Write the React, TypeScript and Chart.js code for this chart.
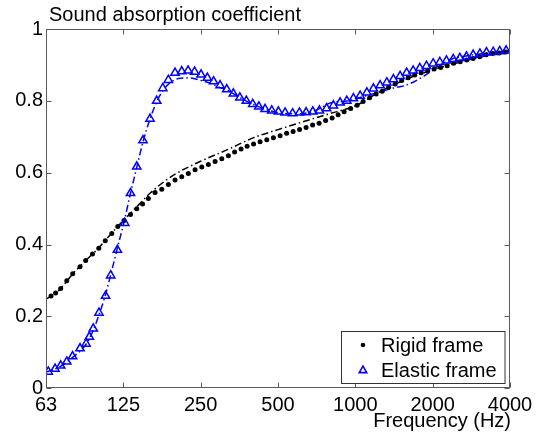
import React, { useEffect, useRef } from 'react';
import { Chart, registerables } from 'chart.js';

Chart.register(...registerables);

// Measured: rigid frame (black dots)
const rigidFreq = [65.4, 68.1, 71.3, 75.3, 79.4, 84.8, 89.2, 94.8, 100.3, 106.3, 112.7, 118.9, 125.8, 133.3, 141, 148.5, 156.4, 166.1, 176.4, 187.1, 198.7, 211, 223.9, 237.8, 252.5, 267.9, 284.5, 302.1, 320.5, 338.8, 359.1, 379, 401.7, 425.8, 452.2, 479.8, 509.5, 540.1, 572.5, 606.8, 643.2, 681.8, 722.7, 766.1, 812.1, 857, 904.4, 958.7, 1016, 1072, 1137, 1205, 1272, 1348, 1429, 1515, 1606, 1702, 1804, 1912, 2027, 2149, 2278, 2414, 2559, 2713, 2875, 3048, 3231, 3425, 3630, 3848];
const rigidAbs = [0.257, 0.265, 0.278, 0.299, 0.319, 0.338, 0.356, 0.374, 0.390, 0.411, 0.431, 0.450, 0.467, 0.484, 0.500, 0.513, 0.528, 0.545, 0.554, 0.567, 0.580, 0.589, 0.598, 0.608, 0.616, 0.623, 0.631, 0.639, 0.647, 0.658, 0.666, 0.674, 0.680, 0.686, 0.692, 0.697, 0.703, 0.710, 0.715, 0.720, 0.726, 0.733, 0.738, 0.745, 0.752, 0.761, 0.770, 0.779, 0.788, 0.798, 0.809, 0.819, 0.827, 0.838, 0.847, 0.857, 0.864, 0.872, 0.878, 0.884, 0.889, 0.893, 0.898, 0.905, 0.909, 0.914, 0.918, 0.923, 0.928, 0.932, 0.933, 0.936];

// Measured: elastic frame (blue triangles)
const elasticFreq = [63.8, 67.8, 71.3, 75.3, 79.3, 84.8, 89.5, 92.2, 95.5, 100.5, 106.6, 111.6, 118.5, 126.6, 133.3, 141, 149.1, 158.8, 168.6, 178, 187.1, 198.7, 211, 223.3, 236.7, 250.9, 265.5, 280.6, 297.5, 315.9, 335.2, 355.3, 376.6, 398.8, 421.3, 445.3, 472.9, 501.8, 532.9, 569.9, 605.8, 643.2, 683.1, 724.8, 773.1, 821.7, 872.6, 926.6, 983.1, 1044, 1109, 1176, 1249, 1326, 1407, 1494, 1584, 1679, 1783, 1892, 2009, 2133, 2263, 2404, 2552, 2708, 2875, 3054, 3240, 3441, 3647, 3865];
const elasticAbs = [0.046, 0.054, 0.063, 0.074, 0.089, 0.111, 0.124, 0.143, 0.166, 0.210, 0.257, 0.314, 0.385, 0.460, 0.543, 0.617, 0.690, 0.750, 0.800, 0.835, 0.858, 0.878, 0.882, 0.884, 0.881, 0.873, 0.864, 0.854, 0.843, 0.832, 0.820, 0.809, 0.800, 0.791, 0.784, 0.777, 0.773, 0.770, 0.767, 0.765, 0.767, 0.768, 0.770, 0.773, 0.779, 0.787, 0.795, 0.800, 0.807, 0.814, 0.823, 0.834, 0.843, 0.851, 0.860, 0.869, 0.878, 0.884, 0.891, 0.897, 0.904, 0.908, 0.912, 0.916, 0.919, 0.923, 0.928, 0.931, 0.935, 0.936, 0.938, 0.940];

// Model curves (dash-dot)
const rigidModelFreq = [62.5, 70, 80, 90, 100, 112, 125, 140, 160, 180, 200, 250, 320, 400, 500, 640, 800, 900, 1000, 1250, 1600, 2000, 2500, 3200, 4000];
const rigidModelAbs = [0.248, 0.272, 0.321, 0.358, 0.39, 0.43, 0.467, 0.503, 0.545, 0.575, 0.597, 0.632, 0.665, 0.697, 0.72, 0.744, 0.765, 0.775, 0.786, 0.826, 0.862, 0.886, 0.906, 0.925, 0.938];

const elasticModelFreq = [62.5, 70, 80, 90, 95, 100, 106, 112, 118, 126, 133, 141, 149, 158, 168, 178, 190, 205, 225, 250, 275, 290, 320, 350, 375, 420, 470, 530, 600, 680, 740, 790, 840, 900, 960, 1050, 1150, 1250, 1350, 1450, 1550, 1700, 1850, 2000, 2200, 2400, 2700, 3100, 3600, 4000];
const elasticModelAbs = [0.045, 0.058, 0.088, 0.125, 0.158, 0.2, 0.255, 0.32, 0.385, 0.465, 0.54, 0.615, 0.685, 0.745, 0.795, 0.828, 0.85, 0.862, 0.864, 0.857, 0.848, 0.84, 0.828, 0.812, 0.8, 0.784, 0.772, 0.765, 0.764, 0.77, 0.782, 0.793, 0.797, 0.798, 0.802, 0.81, 0.818, 0.825, 0.832, 0.838, 0.842, 0.854, 0.869, 0.885, 0.905, 0.918, 0.925, 0.931, 0.936, 0.94];

const xTickValues = [62.5, 125, 250, 500, 1000, 2000, 4000];
const xTickLabels = ['63', '125', '250', '500', '1000', '2000', '4000'];
const yTickValues = [0, 0.2, 0.4, 0.6, 0.8, 1];
const yTickLabels = ['0', '0.2', '0.4', '0.6', '0.8', '1'];

const chartTitle = 'Sound absorption coefficient';
const xAxisTitle = 'Frequency (Hz)';
const legendLabels = ['Rigid frame', 'Elastic frame'];

const FONT = "'Liberation Sans', Arial, Helvetica, sans-serif";
const BLUE = '#0000ff';

const toPoints = (xs: number[], ys: number[]) => xs.map((x, i) => ({ x, y: ys[i] }));

const decorPlugin = {
  id: 'decor',
  afterDraw(chart: any) {
    const { ctx, chartArea: a, scales } = chart;
    const L = Math.round(a.left) + 0.5;
    const R = Math.round(a.right) - 0.5;
    const T = Math.round(a.top) + 0.5;
    const B = Math.round(a.bottom) - 0.5;
    ctx.save();
    // frame
    ctx.strokeStyle = '#5a5a5a';
    ctx.lineWidth = 1;
    ctx.strokeRect(L, T, R - L, B - T);
    // inward ticks
    const tl = 5;
    ctx.beginPath();
    xTickValues.forEach((v) => {
      const px = Math.round(scales.x.getPixelForValue(v)) + 0.5;
      ctx.moveTo(px, B); ctx.lineTo(px, B - tl);
      ctx.moveTo(px, T); ctx.lineTo(px, T + tl);
    });
    yTickValues.forEach((v) => {
      const py = Math.round(scales.y.getPixelForValue(v)) + 0.5;
      ctx.moveTo(L, py); ctx.lineTo(L + tl, py);
      ctx.moveTo(R, py); ctx.lineTo(R - tl, py);
    });
    ctx.stroke();

    // legend
    const lx = 341.5, ly = 331.5, lw = 163.5, lh = 52;
    ctx.fillStyle = '#ffffff';
    ctx.fillRect(lx, ly, lw, lh);
    ctx.strokeStyle = '#333333';
    ctx.strokeRect(lx, ly, lw, lh);
    // dot marker
    ctx.fillStyle = '#000';
    ctx.beginPath();
    ctx.arc(363, 345, 2.3, 0, Math.PI * 2);
    ctx.fill();
    // triangle marker
    ctx.strokeStyle = BLUE;
    ctx.lineWidth = 1.6;
    const r = 4.3, cx = 363, cy = 370.5;
    ctx.beginPath();
    ctx.moveTo(cx, cy - r);
    ctx.lineTo(cx + r * 0.866, cy + r * 0.5);
    ctx.lineTo(cx - r * 0.866, cy + r * 0.5);
    ctx.closePath();
    ctx.stroke();
    ctx.fillStyle = '#000';
    ctx.font = `20px ${FONT}`;
    ctx.textAlign = 'left';
    ctx.textBaseline = 'alphabetic';
    ctx.fillText(legendLabels[0], 381, 352);
    ctx.fillText(legendLabels[1], 381, 377);

    // titles
    ctx.fillText(chartTitle, 49, 21);
    ctx.textAlign = 'right';
    ctx.fillText(xAxisTitle, 511, 427);
    ctx.restore();
  },
};

export default function App() {
  const ref = useRef<HTMLCanvasElement>(null);
  useEffect(() => {
    const canvas = ref.current;
    if (!canvas) return;
    const chart = new Chart(canvas, {
      type: 'scatter',
      data: {
        datasets: [
          {
            label: legendLabels[1],
            data: toPoints(elasticFreq, elasticAbs),
            showLine: false,
            pointStyle: 'triangle',
            pointRadius: 4.8,
            pointBorderWidth: 1.5,
            pointBorderColor: BLUE,
            pointBackgroundColor: 'rgba(0,0,0,0)',
            borderColor: BLUE,
          },
          {
            label: legendLabels[0],
            data: toPoints(rigidFreq, rigidAbs),
            showLine: false,
            pointStyle: 'circle',
            pointRadius: 2.5,
            pointBorderWidth: 0,
            pointBackgroundColor: '#000',
            borderColor: '#000',
          },
          {
            label: 'Elastic model',
            data: toPoints(elasticModelFreq, elasticModelAbs),
            showLine: true,
            pointRadius: 0,
            borderColor: BLUE,
            borderWidth: 1.5,
            borderDash: [7, 3, 1.5, 3],
            cubicInterpolationMode: 'monotone',
            fill: false,
          },
          {
            label: 'Rigid model',
            data: toPoints(rigidModelFreq, rigidModelAbs),
            showLine: true,
            pointRadius: 0,
            borderColor: '#000',
            borderWidth: 1.5,
            borderDash: [7, 3, 1.5, 3],
            cubicInterpolationMode: 'monotone',
            fill: false,
          },
        ],
      },
      options: {
        responsive: false,
        animation: false,
        events: [],
        devicePixelRatio: 1,
        layout: { padding: { top: 29, right: 32, bottom: 0, left: 0 } },
        plugins: {
          legend: { display: false },
          tooltip: { enabled: false },
          title: { display: false },
        },
        scales: {
          x: {
            type: 'logarithmic',
            position: 'bottom',
            min: 62.5,
            max: 4000,
            grid: { display: false, drawTicks: false },
            border: { display: false },
            afterBuildTicks: (s: any) => {
              s.ticks = xTickValues.map((value) => ({ value }));
            },
            afterFit: (s: any) => {
              s.height = 50.7;
            },
            ticks: {
              autoSkip: false,
              maxRotation: 0,
              minRotation: 0,
              padding: 5,
              color: '#000',
              font: { family: FONT, size: 20 },
              callback: (_v: any, i: number) => xTickLabels[i],
            },
          },
          y: {
            type: 'linear',
            min: 0,
            max: 1,
            grid: { display: false, drawTicks: false },
            border: { display: false },
            afterBuildTicks: (s: any) => {
              s.ticks = yTickValues.map((value) => ({ value }));
            },
            afterFit: (s: any) => {
              s.width = 46;
            },
            ticks: {
              padding: 3,
              color: '#000',
              font: { family: FONT, size: 20 },
              callback: (_v: any, i: number) => yTickLabels[i],
            },
          },
        },
      },
      plugins: [decorPlugin],
    } as any);
    return () => chart.destroy();
  }, []);
  return (
    <div style={{ position: 'absolute', left: 0, top: 0, width: 542, height: 439, background: '#fff' }}>
      <canvas ref={ref} width={542} height={439} style={{ display: 'block', width: '542px', height: '439px' }} />
    </div>
  );
}
